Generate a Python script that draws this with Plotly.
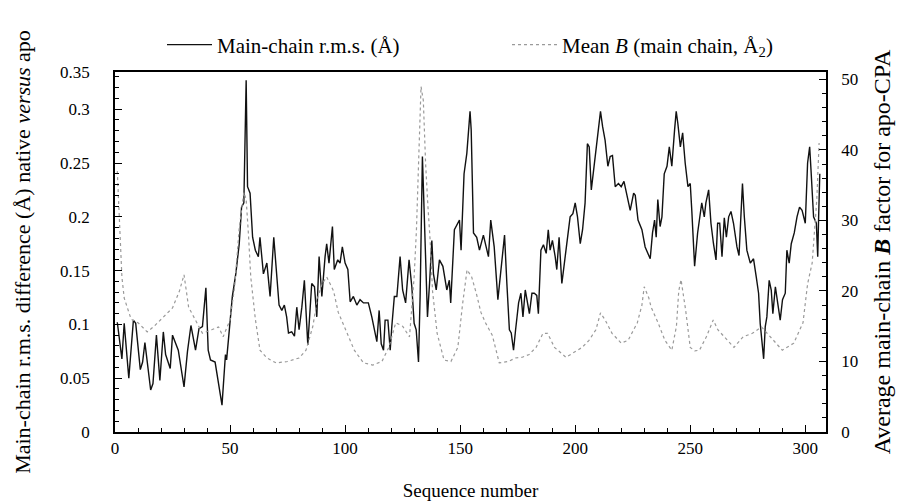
import plotly.graph_objects as go

# ---- data ----
residue_rms = [1, 3, 4, 6, 8, 9, 11, 12, 13, 15.5, 16.5, 18, 19.5, 21, 22, 24, 25, 27.5, 30, 31.5,
               33, 35, 36.5, 38, 39.5, 40.5, 41.5, 43.5, 46.5, 48, 48.5, 50, 51, 52.5, 54, 55, 56, 57,
               57.3, 57.6, 58.7, 59.8, 61, 62.3, 63, 64.5, 66, 67.4, 69, 70.3, 71.3, 72.5, 73.6, 74.6,
               75.4, 76.8, 78, 79, 80, 81.2, 82.3, 83.8, 84.8, 85.5, 86.7, 87.7, 88.7, 89.9, 91.3, 92,
               93, 94.5, 95.3, 96.8, 97.8, 98.8, 100, 101.2, 102.2, 103.6, 105.1, 106.5, 108, 110.1,
               111.6, 112.7, 113.8, 114.8, 115.7, 116.7, 117.4, 118.6, 119.6, 120.3, 121.4, 122.5,
               123.9, 125, 126.3, 127.8, 129, 130, 130.9, 131.9, 132.6, 133.6, 134.3, 135.2, 135.8,
               136.7, 137.7, 138.4, 139.6, 141, 142.5, 144.2, 145.3, 145.9, 147.5, 149.7, 150.4, 151.7,
               152.9, 154.3, 154.8, 155.8, 157.2, 158.4, 160.1, 161.3, 162.3, 163.3, 164.8, 166.4,
               168.1, 169.3, 170.3, 171.4, 172.2, 173.2, 174.1, 175.4, 176.4, 177.3, 178.3, 179.3,
               180.1, 181.2, 182.2, 183.3, 184, 185.1, 186.2, 187.4, 188.3, 189.1, 190.1, 191.3, 192,
               193, 194.2, 195.3, 196.4, 197.8, 199, 200, 201, 202.2, 203.2, 204.3, 205.3, 206.1, 207,
               208, 209.4, 211, 211.9, 213, 214.2, 215.2, 216.2, 217.4, 218.8, 220, 221.2, 222.5,
               223.9, 225.4, 226.1, 227.3, 229, 230.4, 232.6, 233.6, 234.5, 235.2, 235.9, 236.9, 237.7,
               238.7, 239.9, 240.9, 242, 243.2, 243.9, 244.6, 245.7, 246.7, 247.8, 249, 250, 250.7,
               251.9, 253.2, 255, 256.1, 256.8, 258, 259, 260.1, 261.2, 261.9, 262.8, 263.8, 264.8,
               265.7, 266.7, 267.7, 268.8, 270.3, 271.2, 272, 272.7, 273.5, 274.6, 276.1, 277.5, 278.7,
               279.7, 280.4, 281.2, 281.9, 282.6, 283.3, 284.3, 285.2, 285.9, 287, 288, 289.1, 290.1,
               291.3, 292, 293, 293.9, 295.2, 296.4, 297.5, 298.6, 300, 301, 301.9, 302.5, 303.6,
               304.8, 305.4, 305.8, 306.3]
rms = [0.102, 0.068, 0.101, 0.050, 0.104, 0.101, 0.058, 0.065, 0.083, 0.039, 0.045, 0.090, 0.048,
       0.093, 0.072, 0.059, 0.090, 0.076, 0.042, 0.075, 0.099, 0.076, 0.096, 0.098, 0.134, 0.076,
       0.067, 0.065, 0.025, 0.072, 0.067, 0.101, 0.126, 0.147, 0.175, 0.209, 0.213, 0.327, 0.293,
       0.228, 0.222, 0.181, 0.169, 0.163, 0.181, 0.147, 0.157, 0.126, 0.181, 0.141, 0.118, 0.113,
       0.118, 0.107, 0.092, 0.093, 0.089, 0.116, 0.095, 0.116, 0.141, 0.081, 0.110, 0.138, 0.135,
       0.107, 0.163, 0.126, 0.163, 0.175, 0.157, 0.191, 0.151, 0.160, 0.157, 0.172, 0.157, 0.151,
       0.121, 0.126, 0.118, 0.123, 0.120, 0.120, 0.107, 0.095, 0.084, 0.113, 0.082, 0.076, 0.104,
       0.104, 0.076, 0.098, 0.126, 0.126, 0.163, 0.132, 0.120, 0.160, 0.135, 0.101, 0.095, 0.065,
       0.126, 0.256, 0.213, 0.154, 0.107, 0.138, 0.178, 0.147, 0.132, 0.160, 0.154, 0.132, 0.141,
       0.120, 0.188, 0.197, 0.169, 0.240, 0.259, 0.298, 0.281, 0.185, 0.181, 0.169, 0.183, 0.172,
       0.163, 0.197, 0.172, 0.123, 0.160, 0.183, 0.138, 0.095, 0.092, 0.076, 0.095, 0.120, 0.129,
       0.107, 0.132, 0.120, 0.110, 0.129, 0.129, 0.127, 0.110, 0.169, 0.174, 0.166, 0.188, 0.169,
       0.178, 0.163, 0.151, 0.181, 0.138, 0.157, 0.175, 0.200, 0.203, 0.213, 0.200, 0.175, 0.188,
       0.213, 0.268, 0.265, 0.225, 0.243, 0.274, 0.298, 0.284, 0.271, 0.247, 0.256, 0.257, 0.228,
       0.231, 0.228, 0.233, 0.219, 0.206, 0.222, 0.220, 0.197, 0.188, 0.172, 0.161, 0.185, 0.197,
       0.181, 0.216, 0.191, 0.200, 0.240, 0.247, 0.265, 0.247, 0.281, 0.298, 0.287, 0.265, 0.278,
       0.250, 0.228, 0.231, 0.205, 0.154, 0.185, 0.213, 0.200, 0.213, 0.225, 0.194, 0.175, 0.160,
       0.194, 0.194, 0.163, 0.199, 0.181, 0.200, 0.205, 0.194, 0.172, 0.164, 0.200, 0.231, 0.200,
       0.169, 0.157, 0.161, 0.144, 0.129, 0.101, 0.079, 0.068, 0.098, 0.107, 0.141, 0.132, 0.110,
       0.135, 0.120, 0.104, 0.123, 0.129, 0.169, 0.157, 0.175, 0.185, 0.200, 0.209, 0.206, 0.194,
       0.250, 0.265, 0.243, 0.200, 0.194, 0.163, 0.200, 0.240]

residue_b = [1, 2, 3, 4, 7, 10, 14, 17, 21, 25, 28, 30, 32, 35, 38, 42, 45, 47, 50, 52, 54, 56, 57,
             58, 59, 61, 63, 66, 70, 75, 80, 83, 86, 88, 90, 92, 95, 97, 99, 101, 104, 108, 112, 116,
             119, 122, 125, 128, 130, 131, 132, 133, 134, 135, 136, 137, 138, 140, 143, 146, 149, 151,
             153, 155, 157, 159, 161, 164, 167, 171, 174, 177, 180, 183, 186, 188, 191, 196, 199, 203,
             206, 209, 211, 213, 216, 220, 223, 225, 227, 229, 230, 232, 233, 236, 239, 242, 244, 245,
             246, 248, 250, 252, 254, 257, 260, 262, 266, 269, 273, 277, 281, 283, 286, 290, 295, 299,
             301, 303, 305, 306]
mean_b = [37, 30, 22, 19, 16, 15.5, 14.2, 15, 16.3, 17.6, 20, 22.3, 17.7, 15.9, 14, 14.5, 14.9, 13.5,
          15.9, 20.6, 29, 34, 33, 28, 22, 16, 11.6, 10.5, 9.8, 10, 10.5, 11.6, 15, 19, 21, 22, 20, 17,
          15.5, 14, 11.6, 9.8, 9.5, 10, 12, 15.5, 15, 13.5, 22, 28.6, 40, 49, 47, 38, 32, 27, 20, 14,
          10.2, 10, 12, 18, 23, 22, 19.7, 17, 15.5, 13.7, 9.8, 10, 10.5, 10.6, 11, 12, 14, 14, 12,
          10.6, 11.2, 12, 13, 14.5, 16.9, 15.9, 14, 12.6, 13, 14.2, 15.5, 18, 20.6, 19, 17.7, 15.5,
          13, 11.6, 15, 20, 21.6, 17.3, 12, 11.5, 11.6, 13.5, 15.9, 14.5, 13, 12, 13.5, 14, 14.9,
          14.2, 13, 11.6, 12.6, 15.5, 21, 24, 33, 41]

x_ticks = [0, 50, 100, 150, 200, 250, 300]
left_tickvals = [0, 0.05, 0.1, 0.15, 0.2, 0.25, 0.3, 0.3346]
left_ticktext = ["0", "0.05", "0.1", "0.15", "0.2", "0.25", "0.3", "0.35"]
right_ticks = [0, 10, 20, 30, 40, 50]

FONT = "Liberation Serif"

fig = go.Figure()
fig.add_trace(go.Scatter(
    x=residue_rms, y=rms, mode="lines", name="Main-chain r.m.s. (Å)",
    line=dict(color="#111111", width=1.4), showlegend=True))
fig.add_trace(go.Scatter(
    x=residue_b, y=mean_b, mode="lines", name="Mean <i>B</i> (main chain, Å<sub>2</sub>)",
    line=dict(color="#9a9a9a", width=1.2, dash="dot"), yaxis="y2", showlegend=True))

axis_common = dict(showline=True, linecolor="black", linewidth=1.5, ticks="inside",
                   tickcolor="black", ticklen=7, tickwidth=1.3, showgrid=False, zeroline=False,
                   automargin=False,
                   tickfont=dict(family=FONT, size=17, color="black"))

fig.update_layout(
    width=901, height=501,
    margin=dict(l=115, r=75, t=72, b=69),
    paper_bgcolor="white", plot_bgcolor="white",
    font=dict(family=FONT, color="black"),
    showlegend=True,
    xaxis=dict(range=[0, 309], tickvals=x_ticks, mirror=True,
               minor=dict(dtick=10, ticks="inside", ticklen=4, tickcolor="black"),
               title=dict(text="Sequence number", font=dict(family=FONT, size=19), standoff=27),
               **axis_common),
    yaxis=dict(range=[0, 0.3346], tickvals=left_tickvals, ticktext=left_ticktext,
               minor=dict(dtick=0.01, ticks="inside", ticklen=4, tickcolor="black"),
               ticklabelstandoff=20,
               title=dict(text="Main-chain r.m.s. difference (Å) native <i>versus</i> apo",
                          font=dict(family=FONT, size=22), standoff=23),
               **axis_common),
    yaxis2=dict(range=[0, 51.06], tickvals=right_ticks, overlaying="y", side="right",
                minor=dict(dtick=2, ticks="inside", ticklen=4, tickcolor="black"),
                ticklabelstandoff=10,
                title=dict(text="Average main-chain <b><i>B</i></b> factor for apo-CPA",
                           font=dict(family=FONT, size=24), standoff=16),
                **axis_common),
    legend=dict(x=(162 - 115) / 711, y=1.075, xanchor="left", yanchor="middle",
                orientation="h", font=dict(family=FONT, size=21), itemwidth=45,
                entrywidth=285, entrywidthmode="pixels", bgcolor="rgba(0,0,0,0)"),
)

fig.write_html("out.html")
